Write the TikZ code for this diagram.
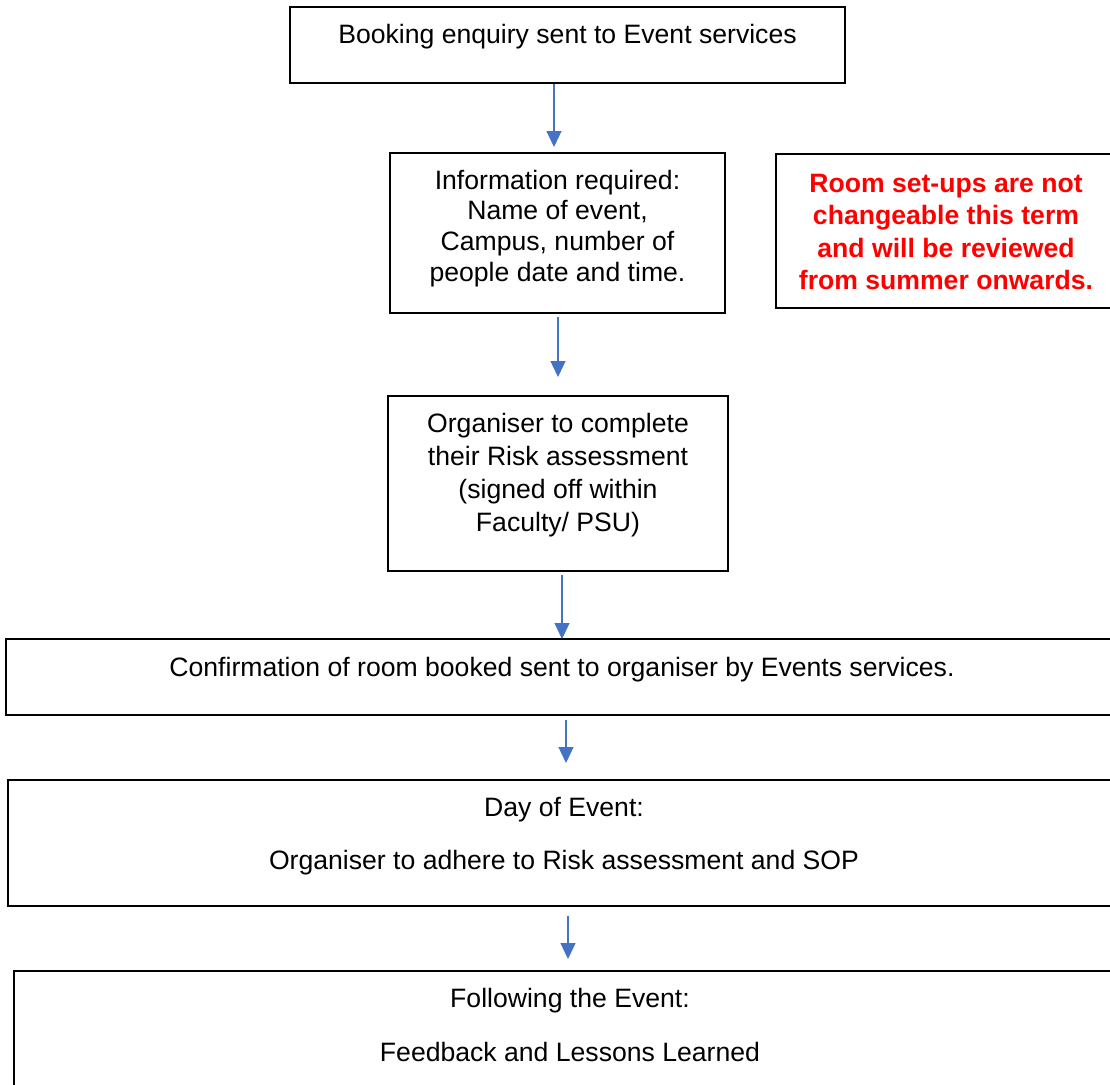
\documentclass[tikz,border=0pt]{standalone}
\usepackage{fontspec}
\setmainfont{Liberation Sans}
\usepackage{tikz}
\usetikzlibrary{arrows.meta, calc, positioning}
\definecolor{arrowBlue}{RGB}{68,114,196}
\tikzset{
    flowBox/.style={rectangle, draw, line width=1pt, inner xsep=0pt, inner ysep=0pt, anchor=base, align=center, font={\fontsize{13.3pt}{15.3pt}\selectfont}},
    noteBox/.style={flowBox, text=red, font={\fontsize{13.3pt}{16.2pt}\selectfont\bfseries}},
    flowArrow/.style={-{Triangle[width=7.5pt, length=8pt]}, arrowBlue, line width=0.6pt},
}
\newcommand{\flowLink}[3][]{
    \draw[flowArrow, #1] (#2.south -| #3) -- (#3);
}
\begin{document}
\begin{tikzpicture}[x=0.5pt, y=-0.5pt]
        \useasboundingbox (0,0) rectangle (1110,1084);

        \node[flowBox, minimum width=277.5pt, text height=18pt, text depth=20pt] (enquiry) at (567.5,43) {Booking enquiry sent to Event services};
        \node[flowBox, minimum width=167.5pt, text height=64pt, text depth=16pt] (info) at (557.5,281) {Information required:\\ Name of event,\\ Campus, number of\\ people date and time.};
        \node[noteBox, minimum width=170pt, text height=67.75pt, text depth=9.25pt] (note) at (946,289.5) {Room set-ups are not\\ changeable this term\\ and will be reviewed\\ from summer onwards.};
        \node[flowBox, minimum width=170pt, font={\fontsize{13.3pt}{16.5pt}\selectfont}, text height=67.5pt, text depth=20pt] (risk) at (558,531) {Organiser to complete\\ their Risk assessment\\ (signed off within\\ Faculty/ PSU)};
        \node[flowBox, minimum width=556pt, text height=18.75pt, text depth=19.25pt] (confirm) at (562,676.5) {Confirmation of room booked sent to organiser by Events services.};
        \node[flowBox, minimum width=556pt, font={\fontsize{13.3pt}{26.5pt}\selectfont}, text height=44.75pt, text depth=18.25pt] (dayof) at (564,869.5) {Day of Event:\\ Organiser to adhere to Risk assessment and SOP};
        \node[flowBox, minimum width=556pt, font={\fontsize{13.3pt}{27pt}\selectfont}, text height=45.25pt, text depth=34.25pt] (after) at (570,1061.5) {Following the Event:\\ Feedback and Lessons Learned};

        \coordinate (tip1) at (554,147);
        \coordinate (tip2) at (558,377);
        \coordinate (tip3) at (562,639);
        \coordinate (tip4) at (566,763);
        \coordinate (tip5) at (568,959);

        \flowLink{enquiry}{tip1}
        \flowLink[shorten <=1.5pt]{info}{tip2}
        \flowLink[shorten <=1.5pt]{risk}{tip3}
        \flowLink[shorten <=2pt]{confirm}{tip4}
        \flowLink[shorten <=4.5pt]{dayof}{tip5}

    \end{tikzpicture}
\end{document}
